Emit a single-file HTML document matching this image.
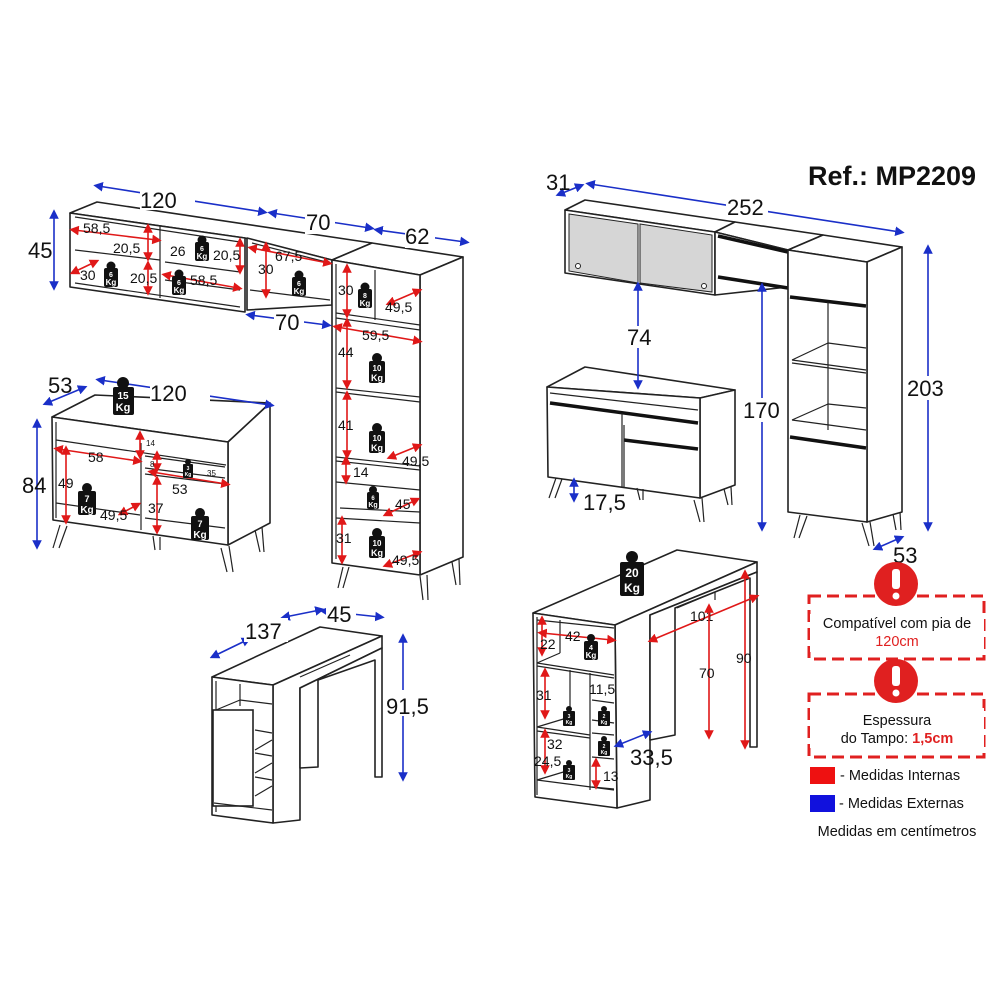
<!DOCTYPE html>
<html><head><meta charset="utf-8"><style>
html,body{margin:0;padding:0;background:#fff;}
svg{display:block;}
text{font-family:"Liberation Sans",Arial,sans-serif;}
.o{fill:#fff;stroke:#222;stroke-width:1.6;stroke-linejoin:round;}
.l{fill:none;stroke:#222;stroke-width:1.2;}
.k{fill:none;stroke:#111;stroke-width:3.5;}
.b{stroke:#1a2fc8;stroke-width:1.6;fill:none;marker-start:url(#ab);marker-end:url(#ab);}
.r{stroke:#e01818;stroke-width:1.6;fill:none;marker-start:url(#ar);marker-end:url(#ar);}
.big{font-size:22px;fill:#111;}
.sm{font-size:14px;fill:#111;}
.w{fill:#111;}
.wt{fill:#fff;font-weight:bold;text-anchor:middle;}
</style></head><body>
<svg width="1000" height="1000" viewBox="0 0 1000 1000" xmlns="http://www.w3.org/2000/svg">
<defs>
<marker id="ab" viewBox="0 0 10 10" refX="5" refY="5" markerWidth="6" markerHeight="6" orient="auto-start-reverse"><path d="M0,0 L10,5 L0,10 z" fill="#1a2fc8"/></marker>
<marker id="ar" viewBox="0 0 10 10" refX="5" refY="5" markerWidth="6" markerHeight="6" orient="auto-start-reverse"><path d="M0,0 L10,5 L0,10 z" fill="#e01818"/></marker>
</defs>

<text x="808" y="185" font-size="27" font-weight="bold" fill="#111">Ref.: MP2209</text>

<!-- ========== LEFT TOP WALL CABINETS ========== -->
<polygon class="o" points="70,213 97,202 372,243 332,260 245,238"/>
<polygon class="o" points="70,213 245,238 245,312 70,287"/>
<line class="l" x1="75" y1="217" x2="240" y2="242"/><line class="l" x1="75" y1="283" x2="240" y2="307"/>
<line class="l" x1="160" y1="226" x2="160" y2="298"/>
<line class="l" x1="75" y1="250" x2="160" y2="260"/><line class="l" x1="165" y1="262" x2="240" y2="272"/>
<line class="l" x1="165" y1="280" x2="240" y2="290"/>
<polygon class="o" points="247,238 332,260 332,305 247,310"/>
<line class="l" x1="250" y1="290" x2="330" y2="300"/>
<line class="l" x1="252" y1="243" x2="330" y2="263"/>
<!-- tall cabinet -->
<polygon class="o" points="332,260 372,243 463,257 420,275"/>
<polygon class="o" points="420,275 463,257 463,557 420,575"/>
<polygon class="o" points="332,260 420,275 420,575 332,563"/>
<line class="l" x1="336" y1="264" x2="336" y2="559"/>
<line class="l" x1="336" y1="313" x2="420" y2="325"/><line class="l" x1="336" y1="318" x2="420" y2="330"/>
<line class="l" x1="336" y1="388" x2="420" y2="397"/><line class="l" x1="336" y1="392" x2="420" y2="402"/>
<line class="l" x1="336" y1="457" x2="420" y2="466"/><line class="l" x1="336" y1="461" x2="420" y2="470"/>
<line class="l" x1="336" y1="482" x2="420" y2="490"/>
<line class="l" x1="340" y1="508" x2="420" y2="512"/><line class="l" x1="336" y1="518" x2="420" y2="523"/>
<line class="l" x1="375" y1="270" x2="375" y2="320"/>
<line class="l" x1="343" y1="567" x2="338" y2="588"/><line class="l" x1="349" y1="567" x2="343" y2="588"/>
<line class="l" x1="420" y1="576" x2="423" y2="600"/><line class="l" x1="427" y1="575" x2="428" y2="600"/>
<line class="l" x1="452" y1="562" x2="456" y2="585"/><line class="l" x1="459" y1="559" x2="460" y2="585"/>

<!-- blue dims -->
<line class="b" x1="98" y1="186" x2="263" y2="212"/>
<line class="b" x1="272" y1="213" x2="370" y2="228"/>
<line class="b" x1="378" y1="230" x2="465" y2="242"/>
<line class="b" x1="54" y1="214" x2="54" y2="286"/>
<line class="b" x1="250" y1="315" x2="327" y2="325"/>
<rect x="140" y="188" width="55" height="22" fill="#fff"/><text class="big" x="140" y="208">120</text>
<rect x="305" y="212" width="30" height="22" fill="#fff"/><text class="big" x="306" y="230">70</text>
<rect x="405" y="226" width="30" height="22" fill="#fff"/><text class="big" x="405" y="244">62</text>
<text class="big" x="28" y="258">45</text>
<rect x="274" y="312" width="30" height="22" fill="#fff"/><text class="big" x="275" y="330">70</text>

<!-- red internal dims wall -->
<line class="r" x1="74" y1="230" x2="157" y2="240"/><text class="sm" x="83" y="233">58,5</text>
<line class="r" x1="148" y1="228" x2="148" y2="257"/><text class="sm" x="113" y="253">20,5</text>
<line class="r" x1="148" y1="265" x2="148" y2="291"/><text class="sm" x="130" y="283">20,5</text>
<line class="r" x1="74" y1="272" x2="95" y2="262"/><text class="sm" x="80" y="280">30</text>
<line class="r" x1="240" y1="242" x2="240" y2="270"/><text class="sm" x="213" y="260">20,5</text>
<text class="sm" x="170" y="256">26</text>
<line class="r" x1="166" y1="275" x2="238" y2="288"/><text class="sm" x="190" y="285">58,5</text>
<line class="r" x1="252" y1="248" x2="328" y2="263"/><text class="sm" x="275" y="261">67,5</text>
<line class="r" x1="266" y1="246" x2="266" y2="294"/><text class="sm" x="258" y="274">30</text>
<line class="r" x1="347" y1="268" x2="347" y2="314"/><text class="sm" x="338" y="295">30</text>
<line class="r" x1="390" y1="303" x2="418" y2="291"/><text class="sm" x="385" y="312">49,5</text>
<line class="r" x1="337" y1="327" x2="418" y2="341"/><text class="sm" x="362" y="340">59,5</text>
<line class="r" x1="347" y1="322" x2="347" y2="385"/><text class="sm" x="338" y="357">44</text>
<line class="r" x1="347" y1="395" x2="347" y2="455"/><text class="sm" x="338" y="430">41</text>
<line class="r" x1="391" y1="457" x2="418" y2="446"/><text class="sm" x="402" y="466">49,5</text>
<line class="r" x1="346" y1="460" x2="346" y2="480"/><text class="sm" x="353" y="477">14</text>
<line class="r" x1="387" y1="514" x2="416" y2="500"/><text class="sm" x="395" y="509">45</text>
<line class="r" x1="342" y1="520" x2="342" y2="560"/><text class="sm" x="336" y="543">31</text>
<line class="r" x1="387" y1="565" x2="418" y2="553"/><text class="sm" x="392" y="565">49,5</text>

<!-- weights wall -->
<g><circle class="w" cx="202" cy="240" r="4.5"/><rect class="w" x="195" y="242" width="14" height="19" rx="2"/><text class="wt" x="202" y="251" font-size="7">6</text><text class="wt" x="202" y="259" font-size="8">Kg</text></g>
<g><circle class="w" cx="111" cy="266" r="4.5"/><rect class="w" x="104" y="268" width="14" height="19" rx="2"/><text class="wt" x="111" y="277" font-size="7">6</text><text class="wt" x="111" y="285" font-size="8">Kg</text></g>
<g><circle class="w" cx="179" cy="274" r="4.5"/><rect class="w" x="172" y="276" width="14" height="19" rx="2"/><text class="wt" x="179" y="285" font-size="7">6</text><text class="wt" x="179" y="293" font-size="8">Kg</text></g>
<g><circle class="w" cx="299" cy="275" r="4.5"/><rect class="w" x="292" y="277" width="14" height="19" rx="2"/><text class="wt" x="299" y="286" font-size="7">6</text><text class="wt" x="299" y="294" font-size="8">Kg</text></g>
<g><circle class="w" cx="365" cy="287" r="4.5"/><rect class="w" x="358" y="289" width="14" height="19" rx="2"/><text class="wt" x="365" y="298" font-size="7">8</text><text class="wt" x="365" y="306" font-size="8">Kg</text></g>
<g><circle class="w" cx="377" cy="358" r="5"/><rect class="w" x="369" y="361" width="16" height="22" rx="2"/><text class="wt" x="377" y="371" font-size="8">10</text><text class="wt" x="377" y="381" font-size="9">Kg</text></g>
<g><circle class="w" cx="377" cy="428" r="5"/><rect class="w" x="369" y="431" width="16" height="22" rx="2"/><text class="wt" x="377" y="441" font-size="8">10</text><text class="wt" x="377" y="451" font-size="9">Kg</text></g>
<g><circle class="w" cx="373" cy="490" r="4"/><rect class="w" x="367" y="492" width="12" height="17" rx="2"/><text class="wt" x="373" y="500" font-size="6">6</text><text class="wt" x="373" y="507" font-size="7">Kg</text></g>
<g><circle class="w" cx="377" cy="533" r="5"/><rect class="w" x="369" y="536" width="16" height="22" rx="2"/><text class="wt" x="377" y="546" font-size="8">10</text><text class="wt" x="377" y="556" font-size="9">Kg</text></g>

<!-- ========== LEFT BASE CABINET ========== -->
<polygon class="o" points="52,417 95,395 270,403 228,442"/>
<polygon class="o" points="228,442 270,403 270,523 228,545"/>
<polygon class="o" points="52,417 228,442 228,545 53,520"/>
<line class="l" x1="56" y1="422" x2="56" y2="518"/>
<line class="l" x1="56" y1="440" x2="226" y2="465"/>
<line class="l" x1="141" y1="443" x2="141" y2="530"/>
<line class="l" x1="145" y1="456" x2="225" y2="467"/><line class="l" x1="145" y1="474" x2="225" y2="484"/>
<line class="l" x1="145" y1="468" x2="225" y2="478"/>
<line class="l" x1="56" y1="503" x2="140" y2="515"/>
<line class="l" x1="145" y1="518" x2="225" y2="528"/>
<line class="l" x1="60" y1="525" x2="53" y2="548"/><line class="l" x1="67" y1="526" x2="59" y2="548"/>
<line class="l" x1="153" y1="536" x2="155" y2="550"/><line class="l" x1="160" y1="537" x2="160" y2="550"/>
<line class="l" x1="221" y1="548" x2="227" y2="572"/><line class="l" x1="229" y1="546" x2="233" y2="572"/>
<line class="l" x1="255" y1="530" x2="260" y2="552"/><line class="l" x1="262" y1="527" x2="264" y2="552"/>
<line class="b" x1="100" y1="380" x2="270" y2="405"/>
<line class="b" x1="47" y1="403" x2="83" y2="388"/>
<line class="b" x1="37" y1="423" x2="37" y2="545"/>
<rect x="150" y="382" width="60" height="22" fill="#fff"/><text class="big" x="150" y="401">120</text>
<text class="big" x="48" y="393">53</text>
<text class="big" x="22" y="493">84</text>
<g><circle class="w" cx="123" cy="383" r="6"/><rect class="w" x="113" y="387" width="21" height="28" rx="2"/><text class="wt" x="123" y="399" font-size="10">15</text><text class="wt" x="123" y="411" font-size="11">Kg</text></g>
<line class="r" x1="140" y1="435" x2="140" y2="455"/><text x="146" y="446" font-size="8" fill="#111">14</text>
<line class="r" x1="58" y1="449" x2="138" y2="461"/><text class="sm" x="88" y="462">58</text>
<line class="r" x1="66" y1="450" x2="66" y2="520"/><text class="sm" x="58" y="488">49</text>
<line class="r" x1="122" y1="513" x2="137" y2="505"/><text class="sm" x="100" y="520">49,5</text>
<line class="r" x1="152" y1="472" x2="226" y2="484"/><text class="sm" x="172" y="494">53</text>
<line class="r" x1="157" y1="480" x2="157" y2="530"/><text class="sm" x="148" y="513">37</text>
<line class="r" x1="157" y1="455" x2="157" y2="468"/><text x="150" y="467" font-size="8" fill="#111">8</text>
<text x="207" y="476" font-size="8" fill="#111">35</text>
<g><circle class="w" cx="188" cy="462" r="3"/><rect class="w" x="183" y="464" width="10" height="14" rx="1"/><text class="wt" x="188" y="470" font-size="5">3</text><text class="wt" x="188" y="476" font-size="5">Kg</text></g>
<g><circle class="w" cx="87" cy="488" r="5"/><rect class="w" x="78" y="491" width="18" height="24" rx="2"/><text class="wt" x="87" y="502" font-size="9">7</text><text class="wt" x="87" y="513" font-size="10">Kg</text></g>
<g><circle class="w" cx="200" cy="513" r="5"/><rect class="w" x="191" y="516" width="18" height="24" rx="2"/><text class="wt" x="200" y="527" font-size="9">7</text><text class="wt" x="200" y="538" font-size="10">Kg</text></g>

<!-- ========== RIGHT TOP ========== -->
<polygon class="o" points="565,210 585,200 735,222 715,232"/>
<polygon class="o" points="565,210 715,232 715,295 565,273"/>
<polygon fill="#d6d6d6" stroke="#222" stroke-width="1" points="569,214 638,224 638,283 569,271"/>
<polygon fill="#d6d6d6" stroke="#222" stroke-width="1" points="640,224 712,235 712,292 640,283"/>
<circle cx="578" cy="266" r="2.5" fill="#fff" stroke="#222"/><circle cx="704" cy="286" r="2.5" fill="#fff" stroke="#222"/>
<polygon class="o" points="715,232 735,222 823,235 788,250"/>
<polygon class="o" points="715,232 788,250 788,287 715,295"/>
<line class="k" x1="718" y1="277" x2="788" y2="288"/>
<line class="k" x1="718" y1="236" x2="788" y2="252" stroke-width="2"/>
<polygon class="o" points="788,250 823,235 902,247 867,262"/>
<polygon class="o" points="867,262 902,247 902,512 867,522"/>
<polygon class="o" points="788,250 867,262 867,522 788,512"/>
<line class="k" x1="790" y1="297" x2="866" y2="306"/>
<line class="k" x1="790" y1="437" x2="866" y2="448"/>
<line class="l" x1="828" y1="302" x2="828" y2="430"/>
<line class="l" x1="792" y1="360" x2="828" y2="343"/><line class="l" x1="828" y1="343" x2="866" y2="348"/>
<line class="l" x1="792" y1="360" x2="866" y2="370"/><line class="l" x1="792" y1="363" x2="866" y2="373"/>
<line class="l" x1="792" y1="420" x2="828" y2="404"/><line class="l" x1="828" y1="404" x2="866" y2="408"/>
<line class="l" x1="792" y1="420" x2="866" y2="430"/>
<line class="l" x1="800" y1="515" x2="794" y2="538"/><line class="l" x1="807" y1="516" x2="799" y2="538"/>
<line class="l" x1="862" y1="523" x2="869" y2="546"/><line class="l" x1="870" y1="522" x2="874" y2="546"/>
<line class="l" x1="893" y1="514" x2="896" y2="530"/><line class="l" x1="900" y1="512" x2="901" y2="530"/>
<!-- right base -->
<polygon class="o" points="547,387 585,367 735,390 700,398"/>
<polygon class="o" points="700,398 735,390 735,485 700,498"/>
<polygon class="o" points="547,387 700,398 700,498 548,477"/>
<line class="l" x1="550" y1="393" x2="698" y2="410"/>
<line class="k" x1="550" y1="403" x2="698" y2="423"/>
<line class="l" x1="622" y1="413" x2="622" y2="487"/>
<line class="k" x1="624" y1="440" x2="698" y2="449"/>
<line class="l" x1="624" y1="425" x2="624" y2="488"/>
<line class="l" x1="556" y1="478" x2="549" y2="498"/><line class="l" x1="562" y1="479" x2="555" y2="498"/>
<line class="l" x1="637" y1="488" x2="640" y2="500"/><line class="l" x1="643" y1="489" x2="643" y2="500"/>
<line class="l" x1="694" y1="500" x2="700" y2="522"/><line class="l" x1="702" y1="498" x2="704" y2="522"/>
<line class="l" x1="724" y1="489" x2="728" y2="505"/><line class="l" x1="731" y1="487" x2="732" y2="505"/>
<!-- blue dims right -->
<line class="b" x1="560" y1="194" x2="580" y2="186"/>
<line class="b" x1="590" y1="184" x2="900" y2="232"/>
<rect x="726" y="196" width="42" height="22" fill="#fff"/><text class="big" x="727" y="215">252</text>
<text class="big" x="546" y="190">31</text>
<line class="b" x1="638" y1="286" x2="638" y2="385"/>
<rect x="626" y="326" width="30" height="22" fill="#fff"/><text class="big" x="627" y="345">74</text>
<line class="b" x1="762" y1="287" x2="762" y2="527"/>
<rect x="742" y="398" width="42" height="24" fill="#fff"/><text class="big" x="743" y="418">170</text>
<line class="b" x1="928" y1="249" x2="928" y2="527"/>
<rect x="907" y="376" width="42" height="24" fill="#fff"/><text class="big" x="907" y="396">203</text>
<line class="b" x1="574" y1="482" x2="574" y2="498"/><text class="big" x="583" y="510">17,5</text>
<line class="b" x1="877" y1="548" x2="900" y2="538"/><text class="big" x="893" y="563">53</text>

<!-- ========== DESK 1 ========== -->
<polygon class="o" points="212,677 320,627 382,636 273,685"/>
<polygon class="o" points="273,685 382,636 382,648 300,688 300,820 273,823"/>
<polygon class="o" points="212,677 273,685 273,823 212,815"/>
<line class="l" x1="216" y1="681" x2="216" y2="812"/>
<line class="l" x1="240" y1="684" x2="240" y2="706"/>
<line class="l" x1="216" y1="710" x2="240" y2="700"/><line class="l" x1="240" y1="700" x2="272" y2="704"/>
<rect x="213" y="710" width="40" height="96" fill="#fff" stroke="#222" stroke-width="1.6"/>
<line class="l" x1="255" y1="730" x2="272" y2="733"/><line class="l" x1="255" y1="750" x2="272" y2="740"/>
<line class="l" x1="255" y1="753" x2="272" y2="756"/><line class="l" x1="255" y1="773" x2="272" y2="763"/>
<line class="l" x1="255" y1="777" x2="272" y2="780"/><line class="l" x1="255" y1="796" x2="272" y2="786"/>
<line class="l" x1="214" y1="803" x2="272" y2="810"/>
<polygon class="o" points="300,688 382,648 382,777 375,777 375,660 318,680 318,767 300,768"/>
<line class="l" x1="300" y1="677" x2="350" y2="655"/>
<line class="b" x1="214" y1="656" x2="247" y2="640"/>
<line class="b" x1="285" y1="617" x2="320" y2="610"/>
<line class="b" x1="324" y1="611" x2="380" y2="617"/>
<rect x="244" y="618" width="44" height="24" fill="#fff"/><text class="big" x="245" y="639">137</text>
<rect x="326" y="603" width="30" height="24" fill="#fff"/><text class="big" x="327" y="622">45</text>
<line class="b" x1="403" y1="638" x2="403" y2="777"/>
<rect x="385" y="690" width="48" height="26" fill="#fff"/><text class="big" x="386" y="714">91,5</text>

<!-- ========== DESK 2 ========== -->
<polygon class="o" points="533,613 677,550 757,562 615,625"/>
<polygon class="o" points="615,625 757,562 757,572 650,615 650,800 617,808"/>
<polygon class="o" points="533,613 615,625 617,808 535,797"/>
<line class="l" x1="537" y1="617" x2="537" y2="795"/>
<line class="l" x1="537" y1="620" x2="614" y2="628"/>
<line class="l" x1="537" y1="663" x2="560" y2="653"/><line class="l" x1="537" y1="663" x2="614" y2="675"/>
<line class="l" x1="537" y1="666" x2="614" y2="678"/>
<line class="l" x1="560" y1="620" x2="560" y2="653"/>
<line class="l" x1="570" y1="670" x2="570" y2="717"/>
<line class="l" x1="590" y1="673" x2="590" y2="790"/>
<line class="l" x1="537" y1="727" x2="570" y2="717"/><line class="l" x1="537" y1="727" x2="590" y2="735"/>
<line class="l" x1="537" y1="731" x2="590" y2="738"/>
<line class="l" x1="537" y1="780" x2="570" y2="770"/><line class="l" x1="537" y1="780" x2="614" y2="790"/>
<line class="l" x1="592" y1="700" x2="614" y2="703"/><line class="l" x1="592" y1="720" x2="614" y2="723"/>
<line class="l" x1="592" y1="733" x2="614" y2="735"/><line class="l" x1="592" y1="757" x2="614" y2="759"/>
<line class="l" x1="592" y1="787" x2="614" y2="789"/>
<polygon class="o" points="650,615 757,572 757,747 750,747 750,578 675,608 675,735 650,740"/>
<line class="l" x1="677" y1="608" x2="715" y2="592"/><line class="l" x1="715" y1="592" x2="715" y2="600"/>
<line class="r" x1="652" y1="640" x2="755" y2="597"/><text class="sm" x="690" y="621">101</text>
<line class="r" x1="709" y1="608" x2="709" y2="735"/><text class="sm" x="699" y="678">70</text>
<line class="r" x1="745" y1="574" x2="745" y2="745"/><text class="sm" x="736" y="663">90</text>
<line class="r" x1="542" y1="620" x2="542" y2="652"/><text class="sm" x="540" y="649">22</text>
<line class="r" x1="542" y1="633" x2="612" y2="640"/><text class="sm" x="565" y="641">42</text>
<line class="r" x1="545" y1="672" x2="545" y2="715"/><text class="sm" x="536" y="700">31</text>
<text class="sm" x="589" y="694">11,5</text>
<line class="r" x1="545" y1="733" x2="545" y2="770"/><text class="sm" x="547" y="749">32</text>
<text class="sm" x="534" y="766">24,5</text>
<line class="r" x1="596" y1="762" x2="596" y2="785"/><text class="sm" x="603" y="781">13</text>
<line class="b" x1="618" y1="745" x2="648" y2="733"/>
<text class="big" x="630" y="765">33,5</text>
<g><circle class="w" cx="632" cy="557" r="6"/><rect class="w" x="620" y="562" width="24" height="34" rx="2"/><text class="wt" x="632" y="577" font-size="12">20</text><text class="wt" x="632" y="592" font-size="12">Kg</text></g>
<g><circle class="w" cx="591" cy="638" r="4"/><rect class="w" x="584" y="641" width="14" height="19" rx="2"/><text class="wt" x="591" y="650" font-size="7">4</text><text class="wt" x="591" y="658" font-size="8">Kg</text></g>
<g><circle class="w" cx="569" cy="709" r="3"/><rect class="w" x="563" y="711" width="12" height="15" rx="1"/><text class="wt" x="569" y="718" font-size="5">3</text><text class="wt" x="569" y="724" font-size="5">Kg</text></g>
<g><circle class="w" cx="604" cy="709" r="3"/><rect class="w" x="598" y="711" width="12" height="15" rx="1"/><text class="wt" x="604" y="718" font-size="5">2</text><text class="wt" x="604" y="724" font-size="5">Kg</text></g>
<g><circle class="w" cx="604" cy="739" r="3"/><rect class="w" x="598" y="741" width="12" height="15" rx="1"/><text class="wt" x="604" y="748" font-size="5">2</text><text class="wt" x="604" y="754" font-size="5">Kg</text></g>
<g><circle class="w" cx="569" cy="763" r="3"/><rect class="w" x="563" y="765" width="12" height="15" rx="1"/><text class="wt" x="569" y="772" font-size="5">3</text><text class="wt" x="569" y="778" font-size="5">Kg</text></g>

<!-- ========== LEGEND ========== -->
<rect x="809" y="596" width="175" height="63" fill="none" stroke="#e02020" stroke-width="3" stroke-dasharray="12,6"/>
<circle cx="896" cy="584" r="22" fill="#e02020"/>
<rect x="892" y="569" width="8" height="20" rx="3" fill="#fff"/><circle cx="896" cy="596" r="3.5" fill="#fff"/>
<rect x="810" y="614" width="174" height="38" fill="#fff"/>
<text x="897" y="628" font-size="14.5" text-anchor="middle" fill="#111">Compatível com pia de</text>
<text x="897" y="646" font-size="14.5" text-anchor="middle" fill="#e02020">120cm</text>
<rect x="809" y="694" width="175" height="63" fill="none" stroke="#e02020" stroke-width="3" stroke-dasharray="12,6"/>
<circle cx="896" cy="681" r="22" fill="#e02020"/>
<rect x="892" y="666" width="8" height="20" rx="3" fill="#fff"/><circle cx="896" cy="693" r="3.5" fill="#fff"/>
<rect x="810" y="708" width="174" height="40" fill="#fff"/>
<text x="897" y="725" font-size="14.5" text-anchor="middle" fill="#111">Espessura</text>
<text x="897" y="743" font-size="14.5" text-anchor="middle" fill="#111">do Tampo: <tspan fill="#e02020" font-weight="bold">1,5cm</tspan></text>
<rect x="810" y="767" width="25" height="17" fill="#ee1111"/>
<text x="840" y="780" font-size="14.5" fill="#111">- Medidas Internas</text>
<rect x="810" y="795" width="25" height="17" fill="#1111dd"/>
<text x="839" y="808" font-size="14.5" fill="#111">- Medidas Externas</text>
<text x="897" y="836" font-size="14.5" text-anchor="middle" fill="#111">Medidas em centímetros</text>
</svg>
</body></html>
